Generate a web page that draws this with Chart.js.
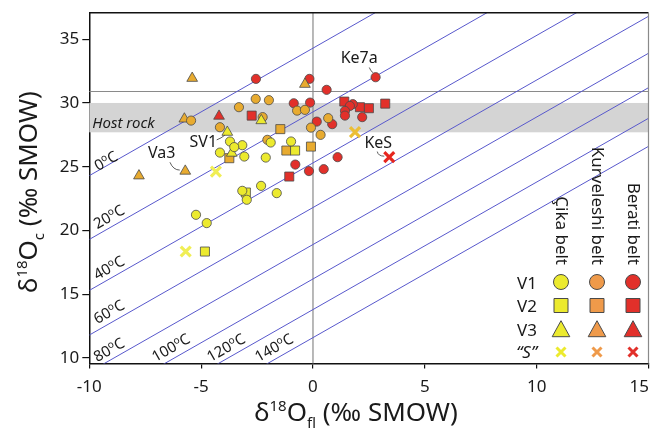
<!DOCTYPE html>
<html>
<head>
<meta charset="utf-8">
<script src="https://cdn.jsdelivr.net/npm/chart.js@4/dist/chart.umd.min.js"></script>
<style>
  html, body { margin: 0; padding: 0; background: #fff; }
  #wrap { width: 650px; height: 428px; }
</style>
</head>
<body>
<div id="wrap"><canvas id="chart" width="650" height="428"></canvas></div>
<script>
const FONT = '"Noto Sans", "Open Sans", sans-serif';

// axes
const xTicks = [-10, -5, 0, 5, 10, 15];
const yTicks = [10, 15, 20, 25, 30, 35];
const xRange = [-10, 15];
const yRange = [9.57, 37.08];

// host rock band (d18O calcite) and upper reference line
const hostRock = [27.7, 30.0];
const hostRockLine = 30.9;

// isotherms: temperature and d18Oc - d18Ofl offset
const isoTemps = [0, 20, 40, 60, 80, 100, 120, 140];
const isoOffsets = [34.3, 29.3, 25.3, 21.8, 18.9, 16.2, 13.8, 11.6];

// Çika belt
const cikaV1 = [[-1.89, 26.90], [-3.71, 26.98], [-3.16, 26.69], [-3.52, 26.54], [-4.16, 26.11],
  [-3.07, 25.80], [-2.11, 25.72], [-0.98, 26.98], [-3.16, 23.11], [-2.96, 22.41], [-2.32, 23.50],
  [-1.62, 22.93], [-5.23, 21.23], [-4.75, 20.58]];
const cikaV2 = [[-0.80, 26.27], [-3.00, 22.98], [-4.83, 18.35]];
const cikaV3 = [[-2.31, 28.62], [-3.83, 27.71], [-3.63, 26.07]];
const cikaS = [[-4.34, 24.62], [-5.69, 18.35]];

// Kurveleshi belt
const kurvV1 = [[-2.56, 30.32], [-1.97, 30.22], [-3.31, 29.67], [-0.71, 29.40], [-0.36, 29.46],
  [0.68, 28.81], [-5.45, 28.62], [-2.25, 28.89], [-0.09, 28.07], [0.34, 27.50], [-4.16, 28.10],
  [-2.04, 27.11]];
const kurvV2 = [[-1.46, 27.95], [-3.74, 25.67], [-1.19, 26.27], [-0.09, 26.58]];
const kurvV3 = [[-5.40, 31.94], [-0.36, 31.47], [-5.75, 28.75], [-5.71, 24.66], [-7.78, 24.29]];
const kurvS = [[1.88, 27.71]];

// Berati belt
const beratiV1 = [[-2.55, 31.89], [-0.16, 31.89], [0.61, 31.03], [-0.86, 29.98], [-0.13, 30.03],
  [0.17, 28.54], [2.80, 32.02], [1.78, 29.91], [1.65, 29.77], [1.43, 29.38], [1.43, 29.01],
  [2.20, 28.89], [0.86, 28.34], [-0.79, 25.17], [-0.18, 24.66], [0.48, 24.81], [1.10, 25.75]];
const beratiV2 = [[-2.74, 29.01], [1.40, 30.11], [2.10, 29.67], [2.50, 29.59], [3.23, 29.95], [-1.06, 24.23]];
const beratiV3 = [[-4.20, 28.97]];
const beratiS = [[3.41, 25.75]];

const YELLOW = '#ecea2e', ORANGE = '#e8ab30', RED = '#e2302a';
const EDGE = '#4a4a4a';

const toXY = arr => arr.map(([x, y]) => ({ x, y }));

function markers(label, data, style, color, r) {
  return { label, data: toXY(data), pointStyle: style, backgroundColor: color, borderColor: EDGE,
    borderWidth: 0.8, pointRadius: r, pointHoverRadius: r, showLine: false, order: 1 };
}
function crosses(label, data, color) {
  return { label, data: toXY(data), pointStyle: 'crossRot', backgroundColor: color, borderColor: color,
    borderWidth: 3.2, pointRadius: 7, pointHoverRadius: 7, showLine: false, order: 1 };
}

const isoSets = isoOffsets.map((off, i) => ({
  label: isoTemps[i] + '°C',
  data: [{ x: xRange[0], y: xRange[0] + off }, { x: xRange[1], y: xRange[1] + off }],
  showLine: true, borderColor: '#5858cc', borderWidth: 1, pointRadius: 0, order: 5
}));

// shapes used by the hand-drawn legend
function drawMark(ctx, style, x, y, s, fill) {
  ctx.save();
  ctx.fillStyle = fill; ctx.strokeStyle = EDGE; ctx.lineWidth = 1;
  ctx.beginPath();
  if (style === 'circle') {
    ctx.arc(x, y, s / 2, 0, Math.PI * 2);
  } else if (style === 'rect') {
    ctx.rect(x - s / 2, y - s / 2, s, s);
  } else if (style === 'triangle') {
    ctx.moveTo(x, y - s * 0.55); ctx.lineTo(x + s * 0.55, y + s * 0.45); ctx.lineTo(x - s * 0.55, y + s * 0.45);
    ctx.closePath();
  }
  if (style === 'cross') {
    ctx.strokeStyle = fill; ctx.lineWidth = 3;
    ctx.moveTo(x - s / 2, y - s / 2); ctx.lineTo(x + s / 2, y + s / 2);
    ctx.moveTo(x + s / 2, y - s / 2); ctx.lineTo(x - s / 2, y + s / 2);
    ctx.stroke();
  } else {
    ctx.fill(); ctx.stroke();
  }
  ctx.restore();
}

const backdrop = {
  id: 'backdrop',
  beforeDatasetsDraw(chart) {
    const { ctx, chartArea: a, scales: { x, y } } = chart;
    ctx.save();
    const t = y.getPixelForValue(hostRock[1]), b = y.getPixelForValue(hostRock[0]);
    ctx.fillStyle = '#d4d4d4';
    ctx.fillRect(a.left, t, a.right - a.left, b - t);
    ctx.strokeStyle = '#8a8a8a'; ctx.lineWidth = 1.2;
    ctx.beginPath();
    const hy = y.getPixelForValue(hostRockLine);
    ctx.moveTo(a.left, hy); ctx.lineTo(a.right, hy);
    const vx = x.getPixelForValue(0);
    ctx.moveTo(vx, a.top); ctx.lineTo(vx, a.bottom);
    ctx.stroke();
    ctx.fillStyle = '#1a1a1a';
    ctx.font = 'italic 15px ' + FONT;
    ctx.textBaseline = 'alphabetic';
    ctx.fillText('Host rock', a.left + 3, y.getPixelForValue(28.05));
    ctx.restore();
  }
};

const overlay = {
  id: 'overlay',
  afterDatasetsDraw(chart) {
    const { ctx, scales: { x, y } } = chart;
    const ang = Math.atan2(y.getPixelForValue(1) - y.getPixelForValue(0), x.getPixelForValue(1) - x.getPixelForValue(0));
    // isotherm labels
    const labelAt = [[-9.25, 25.46], [-9.12, 21.07], [-9.12, 17.08], [-9.12, 13.63],
      [-9.12, 10.65], [-6.35, 10.81], [-3.89, 10.81], [-1.74, 10.81]];
    isoTemps.forEach((t, i) => {
      const cx = x.getPixelForValue(labelAt[i][0]), cy = y.getPixelForValue(labelAt[i][1]);
      ctx.save();
      ctx.translate(cx, cy); ctx.rotate(ang);
      ctx.fillStyle = '#1a1a1a'; ctx.textBaseline = 'alphabetic';
      const big = '15px ' + FONT, small = '10px ' + FONT;
      ctx.font = big; const w1 = ctx.measureText(String(t)).width, w3 = ctx.measureText('C').width;
      ctx.font = small; const w2 = ctx.measureText('o').width;
      const x0 = -(w1 + w2 + w3) / 2;
      ctx.font = big; ctx.fillText(String(t), x0, 5);
      ctx.font = small; ctx.fillText('o', x0 + w1, -0.5);
      ctx.font = big; ctx.fillText('C', x0 + w1 + w2, 5);
      ctx.restore();
    });
    // sample annotations with leader lines
    const notes = [
      { text: 'Ke7a', at: beratiV1[6], dx: -16.4, dy: -18.7, line: [[-6.3, -9.7], [-5, -6], [-2.5, -4.5]] },
      { text: 'KeS', at: beratiS[0], dx: -11, dy: -14, line: [[-12, -5.6], [-11, -1], [-5, -1]] },
      { text: 'Va3', at: kurvV3[3], dx: -23.6, dy: -18, line: [[-15.3, -8.8], [-12, -1], [-5.5, -1]] },
      { text: 'SV1', at: cikaV3[1], dx: -24, dy: 10, line: [[-10.6, 7.7], [-6, 6], [-2.5, 3]] }
    ];
    ctx.save();
    ctx.font = '16px ' + FONT; ctx.fillStyle = '#1a1a1a';
    ctx.textAlign = 'center'; ctx.textBaseline = 'middle';
    ctx.strokeStyle = '#333'; ctx.lineWidth = 0.8;
    notes.forEach(n => {
      const px = x.getPixelForValue(n.at[0]), py = y.getPixelForValue(n.at[1]);
      ctx.fillText(n.text, px + n.dx, py + n.dy);
      const [p0, c, p1] = n.line;
      ctx.beginPath();
      ctx.moveTo(px + p0[0], py + p0[1]);
      ctx.quadraticCurveTo(px + c[0], py + c[1], px + p1[0], py + p1[1]);
      ctx.stroke();
    });
    ctx.restore();
  },
  afterDraw(chart) {
    const { ctx, chartArea: a, scales: { x } } = chart;
    ctx.save();
    // frame top and right
    ctx.strokeStyle = '#111'; ctx.lineWidth = 1.5;
    ctx.beginPath(); ctx.moveTo(a.left, a.top); ctx.lineTo(a.right, a.top); ctx.stroke();
    ctx.strokeStyle = '#8a8a8a'; ctx.lineWidth = 1.2;
    ctx.beginPath(); ctx.moveTo(a.right, a.top); ctx.lineTo(a.right, a.bottom); ctx.stroke();

    // last x tick label kept inside the canvas
    ctx.fillStyle = '#1a1a1a';
    ctx.font = '17px ' + FONT;
    ctx.textAlign = 'right'; ctx.textBaseline = 'middle';
    const last = xTicks[xTicks.length - 1];
    ctx.fillText(String(last), x.getPixelForValue(last) + 0.5, a.bottom + 24);

    // legend
    const cols = [561, 597, 633];
    const rows = [282, 305.5, 329.5, 352];
    const headers = ['Çika belt', 'Kurveleshi belt', 'Berati belt'];
    const legendFill = ['#ecea2e', '#ef9a4a', '#e2302a'];
    const rowNames = ['V1', 'V2', 'V3'];
    const styles = ['circle', 'rect', 'triangle', 'cross'];
    const sizes = [15, 14, 16, 9];
    headers.forEach((h, i) => {
      ctx.save();
      ctx.translate(cols[i], 265); ctx.rotate(Math.PI / 2);
      ctx.textAlign = 'right'; ctx.textBaseline = 'middle';
      ctx.fillText(h, 0, 0);
      ctx.restore();
    });
    ctx.textAlign = 'right'; ctx.textBaseline = 'middle';
    rowNames.forEach((r, i) => ctx.fillText(r, 537, rows[i] + 2));
    ctx.font = 'italic 17px ' + FONT;
    ctx.fillText('\u201CS\u201D', 537, rows[3] + 1);
    styles.forEach((s, r) => cols.forEach((cx, c) => drawMark(ctx, s, cx, rows[r], sizes[r], legendFill[c])));

    // axis titles
    const big = '26px ' + FONT, small = '15px ' + FONT;
    const parts = [['δ', big, 0], ['18', small, -10], ['O', big, 0], ['fl', small, 7], [' (‰ SMOW)', big, 0]];
    const partsY = [['δ', big, 0], ['18', small, -10], ['O', big, 0], ['c', small, 7], [' (‰ SMOW)', big, 0]];
    function title(list, cx, cy, rot) {
      ctx.save();
      ctx.translate(cx, cy); ctx.rotate(rot);
      ctx.textAlign = 'left'; ctx.textBaseline = 'alphabetic'; ctx.fillStyle = '#1a1a1a';
      let w = 0;
      list.forEach(([t, f]) => { ctx.font = f; w += ctx.measureText(t).width; });
      let px = -w / 2;
      list.forEach(([t, f, dy]) => { ctx.font = f; ctx.fillText(t, px, dy); px += ctx.measureText(t).width; });
      ctx.restore();
    }
    title(parts, 356, 421, 0);
    title(partsY, 37, 192, -Math.PI / 2);
    ctx.restore();
  }
};

new Chart(document.getElementById('chart'), {
  type: 'scatter',
  data: {
    datasets: [
      ...isoSets,
      markers('Çika V1', cikaV1, 'circle', YELLOW, 4.6),
      markers('Çika V2', cikaV2, 'rect', YELLOW, 6.4),
      markers('Çika V3', cikaV3, 'triangle', YELLOW, 6.2),
      crosses('Çika S', cikaS, '#f0ee55'),
      markers('Kurveleshi V1', kurvV1, 'circle', ORANGE, 4.6),
      markers('Kurveleshi V2', kurvV2, 'rect', ORANGE, 6.4),
      markers('Kurveleshi V3', kurvV3, 'triangle', ORANGE, 6.2),
      crosses('Kurveleshi S', kurvS, '#ebbe35'),
      markers('Berati V1', beratiV1, 'circle', RED, 4.6),
      markers('Berati V2', beratiV2, 'rect', RED, 6.4),
      markers('Berati V3', beratiV3, 'triangle', RED, 6.2),
      crosses('Berati S', beratiS, '#e6261e')
    ]
  },
  options: {
    responsive: false,
    devicePixelRatio: 1,
    animation: false,
    layout: { autoPadding: false, padding: { top: 12.7, right: 1.5, left: 0, bottom: 0 } },
    plugins: { legend: { display: false }, tooltip: { enabled: false } },
    scales: {
      x: {
        type: 'linear', min: xRange[0], max: xRange[1],
        afterBuildTicks: s => { s.ticks = xTicks.map(v => ({ value: v })); },
        afterFit: s => { s.height = 64.5; s.paddingLeft = 0; s.paddingRight = 0; },
        grid: { drawOnChartArea: false, drawTicks: true, tickLength: 5, color: '#111', lineWidth: 1.2 },
        border: { display: true, color: '#111', width: 1.5 },
        ticks: { color: '#1a1a1a', font: { family: FONT, size: 17 }, padding: 8, maxRotation: 0,
          callback: v => (v === xTicks[xTicks.length - 1] ? '' : String(v)) }
      },
      y: {
        type: 'linear', min: yRange[0], max: yRange[1],
        afterBuildTicks: s => { s.ticks = yTicks.map(v => ({ value: v })); },
        afterFit: s => { s.width = 89.3; s.paddingTop = 0; s.paddingBottom = 0; },
        grid: { drawOnChartArea: false, drawTicks: true, tickLength: 7, color: '#111', lineWidth: 1.2 },
        border: { display: true, color: '#111', width: 1.5 },
        ticks: { color: '#1a1a1a', font: { family: FONT, size: 17 }, padding: 3, callback: v => String(v) }
      }
    }
  },
  plugins: [backdrop, overlay]
});
</script>
</body>
</html>
